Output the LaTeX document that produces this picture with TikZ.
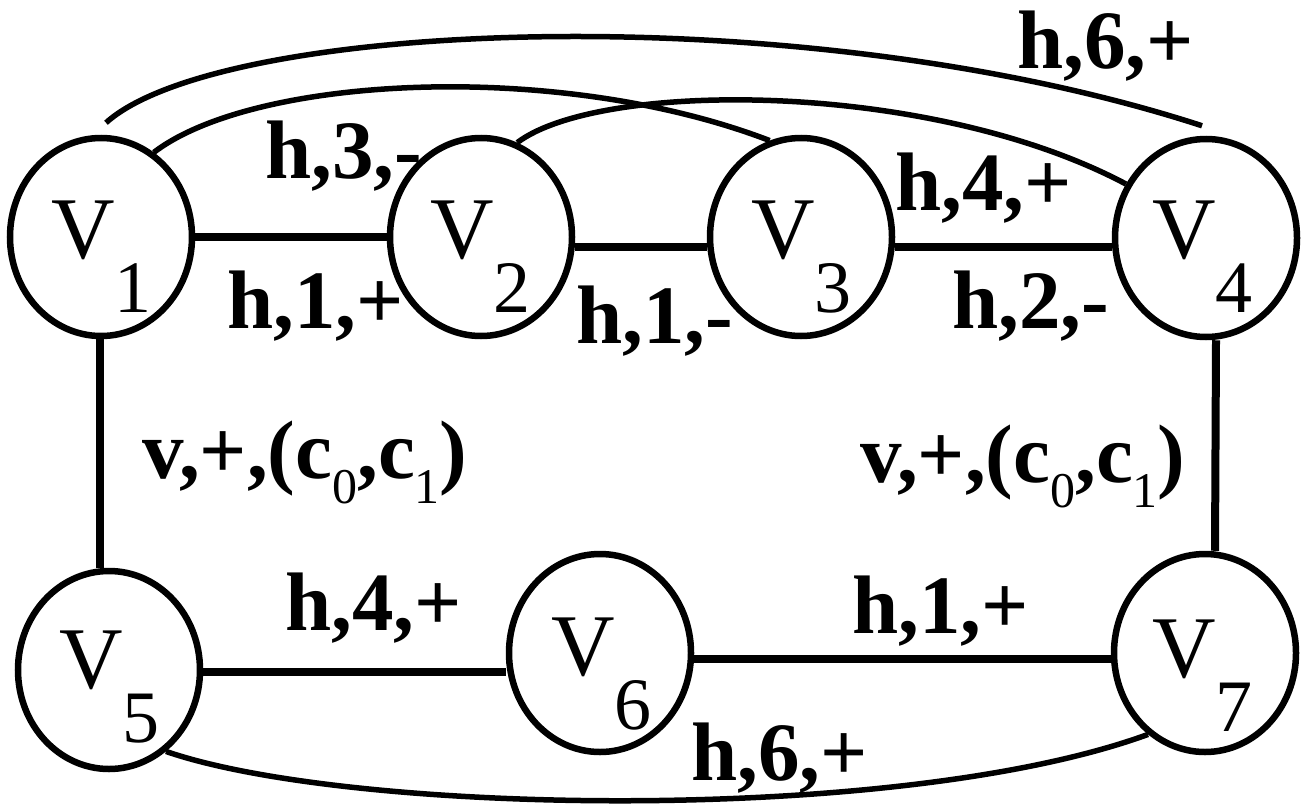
\documentclass[tikz,border=0pt]{standalone}
\usepackage{fontspec}
\setmainfont{Liberation Serif}
\usetikzlibrary{shapes.geometric}
\newcommand{\vsub}[1]{\raisebox{-54pt}{\fontsize{74}{74}\selectfont #1}}
\newcommand{\csub}[1]{\raisebox{-25pt}{\fontsize{50}{50}\selectfont\mdseries #1}}
\begin{document}
\begin{tikzpicture}[x=1pt,y=-1pt,
 vert/.style={ellipse, draw, line width=6.5pt, minimum width=182pt, minimum height=198pt, inner sep=0pt},
 vtxt/.style={anchor=base west, inner sep=0pt, font=\fontsize{88}{90}\selectfont},
 elab/.style={anchor=base west, inner sep=0pt, font=\fontsize{83}{86}\selectfont\bfseries},
 edge/.style={line width=8pt},
 arcline/.style={line width=5.5pt}]
\useasboundingbox (0,0) rectangle (1305,808);

% vertices
\node[vert] (v1) at (101,237) {};
\node[vert] (v2) at (481,237) {};
\node[vert] (v3) at (801,237) {};
\node[vert] (v4) at (1206,238) {};
\node[vert] (v5) at (109,670) {};
\node[vert] (v6) at (600,653) {};
\node[vert] (v7) at (1205,653) {};

\node[vtxt] (t1) at (51,258) {V\vsub{1}};
\node[vtxt] (t2) at (430,258) {V\vsub{2}};
\node[vtxt] (t3) at (751,258) {V\vsub{3}};
\node[vtxt] (t4) at (1152,258) {V\vsub{4}};
\node[vtxt] (t5) at (59,688) {V\vsub{5}};
\node[vtxt] (t6) at (551,675) {V\vsub{6}};
\node[vtxt] (t7) at (1152,677) {V\vsub{7}};

% straight edges
\draw[edge] (v1) -- (v2);
\draw[edge] ([yshift=-10pt]v2.east) -- ([yshift=-10pt]v3.west);
\draw[edge] ([yshift=-10pt]v3.east) -- ([yshift=-9pt]v4.west);
\draw[edge] ([yshift=-2pt]v5.east) -- ([yshift=-19pt]v6.west);
\draw[edge] ([yshift=-6pt]v6.east) -- ([yshift=-6pt]v7.west);
\draw[edge] ([xshift=-1pt]v1.south) -- ([xshift=-1pt]v1.south |- v5.north);
\draw[edge] ([xshift=10pt]v4.south) -- ([xshift=10pt]v7.north);

% curved edges
\draw[arcline] ([xshift=5pt,yshift=12pt]v1.north) .. controls (220,20) and (800,-5) .. ([xshift=-4pt,yshift=10pt]v4.north);
\draw[arcline] (v1.58) .. controls (255,75) and (560,60) .. (v3.108);
\draw[arcline] (v2.69) .. controls (600,80) and (930,80) .. (v4.146);
\draw[arcline] (v5.-55) .. controls (350,815) and (900,825) .. (v7.-125);

% edge labels
\node[elab] (l1) at (1017,68) {h,6,+};
\node[elab] (l2) at (265,178) {h,3,-};
\node[elab] (l3) at (895,210) {h,4,+};
\node[elab] (l4) at (227,328) {h,1,+};
\node[elab] (l5) at (576,343) {h,1,-};
\node[elab] (l6) at (952,328) {h,2,-};
\node[elab] (l7) at (142,478) {v,+,(c\csub{0},c\csub{1})};
\node[elab] (l8) at (860,482) {v,+,(c\csub{0},c\csub{1})};
\node[elab] (l9) at (285,630) {h,4,+};
\node[elab] (l10) at (852,633) {h,1,+};
\node[elab] (l11) at (691,780) {h,6,+};
\end{tikzpicture}
\end{document}
